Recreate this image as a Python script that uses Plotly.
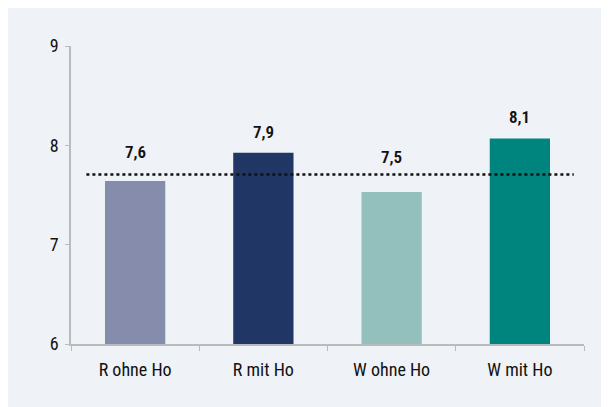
import plotly.graph_objects as go

categories = ["R ohne Ho", "R mit Ho", "W ohne Ho", "W mit Ho"]
values = [7.64, 7.925, 7.53, 8.07]
value_labels = ["7,6", "7,9", "7,5", "8,1"]
average = 7.707
y_ticks = [6, 7, 8, 9]

colors = ["#868CAB", "#203765", "#93BFBD", "#00847E"]
label_shift = [29, 21, 35, 21]
FONT = "Roboto Condensed, Roboto, sans-serif"

fig = go.Figure()
fig.add_trace(go.Bar(x=categories, y=values, marker=dict(color=colors, line=dict(width=0)),
                     width=0.47, hoverinfo="skip"))

for c, v, t, s in zip(categories, values, value_labels, label_shift):
    fig.add_annotation(x=c, y=v, text=t, showarrow=False, yanchor="middle", yshift=s,
                       font=dict(family=FONT, size=17, color="#111111", weight=600))

fig.add_shape(type="line", xref="x", yref="y", x0=-0.38, x1=3.42, y0=average, y1=average,
              line=dict(color="#111111", width=2.5, dash="dot"))

fig.update_layout(
    width=601, height=399,
    margin=dict(l=63, r=25, t=38, b=63),
    paper_bgcolor="#EFF2F7", plot_bgcolor="#EFF2F7",
    showlegend=False,
    font=dict(family=FONT, color="#111111"),
)
fig.update_xaxes(showline=True, linecolor="#BBBBBB", linewidth=2, ticks="outside", tickson="boundaries",
                 ticklen=5, tickcolor="#BBBBBB", tickfont=dict(family=FONT, size=18, color="#111111"),
                 ticklabelstandoff=8,
                 showgrid=False, range=[-0.5, 3.5], fixedrange=True, zeroline=False)
fig.update_yaxes(range=[6, 9], tickvals=y_ticks, showline=True, linecolor="#BBBBBB", linewidth=1.5,
                 ticks="outside", ticklen=4, tickcolor="#BBBBBB",
                 tickfont=dict(family=FONT, size=18, color="#111111"), ticklabelstandoff=3,
                 showgrid=False, zeroline=False, fixedrange=True)

fig.write_html("out.html")
